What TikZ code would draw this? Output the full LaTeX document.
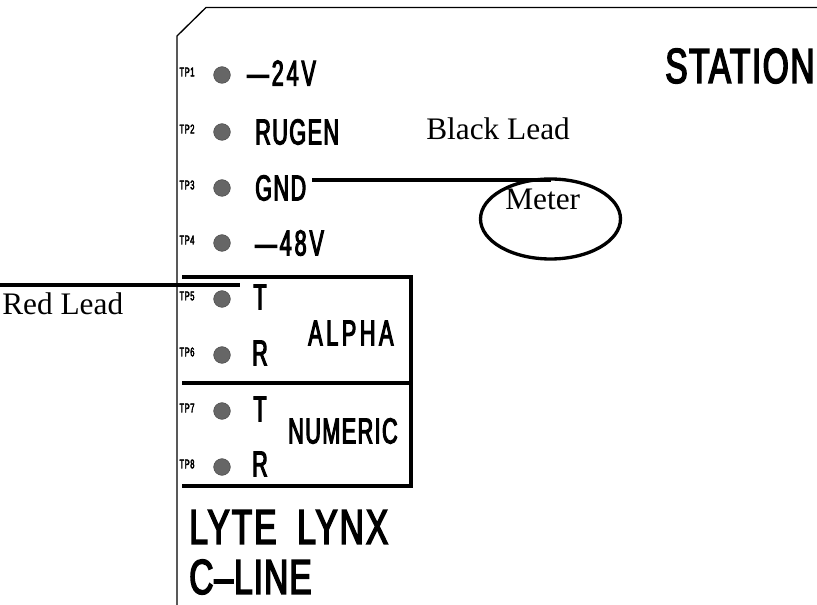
\documentclass[tikz,border=0pt]{standalone}
\usepackage{fontspec}
\setmainfont{Liberation Serif}
\newfontfamily\panelfont[FakeStretch=0.6,FakeBold=3,LetterSpace=4]{Liberation Sans}
\newfontfamily\bigfont[FakeStretch=0.68,FakeBold=3,LetterSpace=2]{Liberation Sans}
\usepackage{xcolor}
\usetikzlibrary{shapes.geometric, positioning}
\begin{document}
\begin{tikzpicture}[x=0.75pt,y=-0.75pt]
\tikzset{
  tp/.style={font=\panelfont\fontsize{9.5}{9.5}\selectfont,inner sep=0pt},
  dot/.style={circle,fill=black!60,draw=black!70,minimum size=12.5pt,inner sep=0pt},
  lb/.style={font=\panelfont\fontsize{27}{27}\selectfont,inner sep=0pt},
  lbb/.style={font=\bigfont\fontsize{37}{37}\selectfont,inner sep=0pt},
  note/.style={font=\fontsize{23.5}{23.5}\selectfont,inner sep=0pt},
  lead/.style={line width=2.5pt,draw=black},
  frm/.style={line width=2.5pt,draw=black}
}
\useasboundingbox (0,0) rectangle (817,605);
% panel outline
\draw[line width=1pt] (177,605)--(177,36)--(206,7.5)--(817,7.5);
% test points
\foreach \n/\y in {1/75,2/132,3/188,4/243,5/299,6/355,7/411,8/467}{
  \node[tp] (tp\n) at (187,\y-3) {TP\n};
  \node[dot] (d\n) at (222,\y) {};
}
\node[lb,anchor=west] (v24) at (247,73) {\addfontfeature{LetterSpace=8}\textemdash 24V};
\node[lb,anchor=west] (rugen) at (255,132) {RUGEN};
\node[lb,anchor=west] (gnd) at (255,188) {GND};
\node[lb,anchor=west] (v48) at (255,243) {\addfontfeature{LetterSpace=8}\textemdash 48V};
\node[lb] (t1) at (260,297) {T};
\node[lb] (r1) at (260,353) {R};
\node[lb] (t2) at (260,409) {T};
\node[lb] (r2) at (260,464) {R};
\node[lb,anchor=west] (alpha) at (308,333) {\addfontfeature{LetterSpace=10}ALPHA};
\node[lb,anchor=west] (numeric) at (288,431) {NUMERIC};
\node[lbb,anchor=west] (lyte) at (189,527) {\addfontfeature{LetterSpace=4}LYTE\hspace{7pt} LYNX};
\node[lbb,anchor=west] (cline) at (189,577) {C\textendash LINE};
\node[lbb,anchor=west] (station) at (665,66) {\addfontfeature{LetterSpace=3}STATION};
% alpha / numeric boxes
\draw[frm] (182,277)--(411,277)--(411,486)--(182,486);
\draw[frm] (182,383)--(411,383);
% meter and leads
\node[draw,ellipse,line width=2.5pt,minimum width=105pt,minimum height=60pt,inner sep=0pt] (meter) at (550.5,219) {};
\node[note,anchor=base west] (mtxt) at (505,210) {Meter};
\node[note,anchor=base west] (blk) at (426,140) {Black Lead};
\node[note,anchor=base west] (red) at (2,315) {Red Lead};
\coordinate (gndpt) at (312,180);
\coordinate (redstart) at (0,285);
\coordinate (redend) at (240,285);
\draw[lead] (gndpt)--(gndpt -| meter.north);
\draw[lead] (redstart)--(redend);
\end{tikzpicture}
\end{document}
